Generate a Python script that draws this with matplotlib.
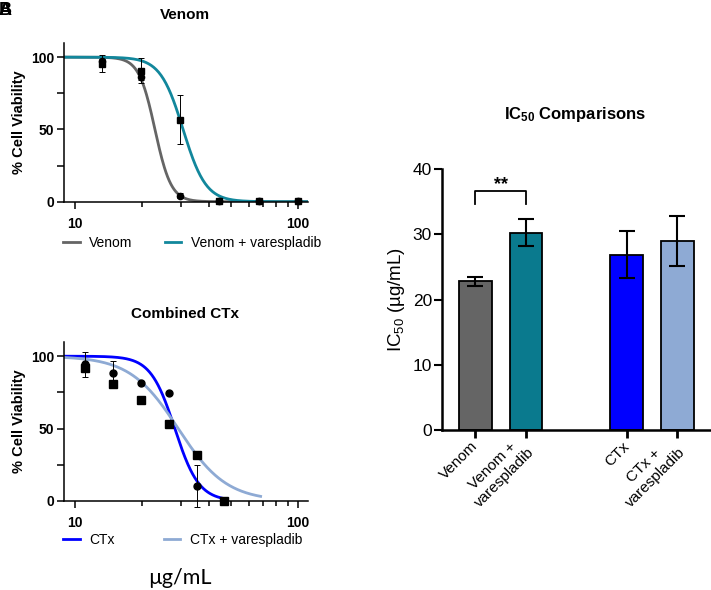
import numpy as np
import matplotlib.pyplot as plt
from matplotlib.ticker import FixedLocator, NullFormatter

plt.rcParams['font.family'] = ['Liberation Sans', 'DejaVu Sans']
plt.rcParams['mathtext.default'] = 'regular'

# -----------------------
# DATA
# -----------------------
venom_conc = [13.17, 19.75, 29.63, 44.44, 66.67, 100]
venom_via = [97.0, 86.3, 4.2, 0.5, 0.3, 0.3]
venom_err = [2.0, 2.0, 1.5, 0, 0, 0]
venom_var_via = [95.6, 90.7, 56.7, 0.5, 0.3, 0.5]
venom_var_err = [6.2, 8.5, 16.8, 0, 0, 0]

ctx_conc = [11.1, 14.8, 19.75, 26.3, 35.1, 46.8]
ctx_via = [94.3, 88.5, 81.4, 74.8, 10.6, 0.2]
ctx_err = [8.5, 8.0, 1.5, 1.0, 14.5, 0]
ctx_var_via = [92.0, 80.7, 69.5, 53.0, 31.7, 0.2]
ctx_var_err = [2.0, 2.0, 1.0, 1.0, 2.0, 0]

# fitted curves: (IC50, hill slope, x end)
venom_fit = (22.8, 12.0, 111)
venom_var_fit = (30.5, 8.5, 111)
ctx_fit = (28.0, 8.0, 47)
ctx_var_fit = (29.0, 4.0, 68)

groups = ['Venom', 'Venom +\nvarespladib', 'CTx', 'CTx +\nvarespladib']
ic50 = [22.8, 30.3, 26.9, 29.0]
ic50_err = [0.7, 2.05, 3.6, 3.85]
bar_x = [0, 1, 3, 4]

GRAY = '#656565'
TEAL = '#12879c'
TEAL_BAR = '#0a7a8e'
BLUE = '#0000ff'
LBLUE = '#8eaad4'

W, H = 711, 590
fig = plt.figure(figsize=(W / 100, H / 100), dpi=100)


def px_axes(x0, y0, x1, y1):
    return fig.add_axes([x0 / W, 1 - y1 / H, (x1 - x0) / W, (y1 - y0) / H])


def curve(ax, fit, color):
    ic, h, xend = fit
    xs = np.logspace(np.log10(8.9), np.log10(xend), 300)
    ax.plot(xs, 100 / (1 + (xs / ic) ** h), color=color, lw=2.0, zorder=2)


def style_dose(ax):
    ax.set_xscale('log')
    ax.set_xlim(8.9, 111)
    ax.set_ylim(0, 110)
    ax.xaxis.set_major_locator(FixedLocator([10, 100]))
    ax.xaxis.set_minor_locator(FixedLocator([20, 30, 40, 50, 60, 70, 80, 90]))
    ax.xaxis.set_minor_formatter(NullFormatter())
    ax.set_xticklabels(['10', '100'], fontweight='bold', fontsize=10)
    ax.set_yticks([0, 25, 50, 75, 100])
    ax.set_yticklabels(['0', '', '50', '', '100'], fontweight='bold', fontsize=10)
    for s in ['top', 'right']:
        ax.spines[s].set_visible(False)
    for s in ['left', 'bottom']:
        ax.spines[s].set_linewidth(1.1)
    ax.tick_params(axis='both', which='major', length=5, width=1.1, pad=2)
    ax.tick_params(axis='x', which='major', pad=6)
    ax.tick_params(axis='x', which='minor', length=3.5, width=1.1)
    ax.set_ylabel('% Cell Viability', fontweight='bold', fontsize=10.5)
    ax.yaxis.set_label_coords(-0.155, 0.5)


def points(ax, x, y, e, marker, ms):
    ax.errorbar(x, y, yerr=e, fmt=marker, color='black', ms=ms, elinewidth=0.7,
                capsize=2.3, capthick=0.7, zorder=3, clip_on=False)


# -----------------------
# VENOM
# -----------------------
ax1 = px_axes(64, 42.7, 308, 201.7)
curve(ax1, venom_fit, GRAY)
curve(ax1, venom_var_fit, TEAL)
points(ax1, venom_conc, venom_var_via, venom_var_err, 's', 5)
points(ax1, venom_conc, venom_via, venom_err, 'o', 4.5)
style_dose(ax1)
ax1.legend(handles=ax1.lines[:2], labels=['Venom', 'Venom + varespladib'],
           ncol=2, frameon=False, loc='center left', fontsize=10,
           bbox_to_anchor=(63 / W, 1 - 243 / H), bbox_transform=fig.transFigure,
           borderpad=0, borderaxespad=0, handlelength=1.2, handletextpad=0.7,
           columnspacing=2.3)
fig.text(185 / W, 1 - 15 / H, 'Venom', ha='center', va='center',
         fontweight='bold', fontsize=11)

# -----------------------
# COMBINED CTx
# -----------------------
ax2 = px_axes(64, 341.7, 308, 501)
curve(ax2, ctx_fit, BLUE)
curve(ax2, ctx_var_fit, LBLUE)
points(ax2, ctx_conc, ctx_var_via, ctx_var_err, 's', 5.5)
points(ax2, ctx_conc, ctx_via, ctx_err, 'o', 5)
style_dose(ax2)
ax2.legend(handles=ax2.lines[:2], labels=['CTx', 'CTx + varespladib'],
           ncol=2, frameon=False, loc='center left', fontsize=10,
           bbox_to_anchor=(63 / W, 1 - 540 / H), bbox_transform=fig.transFigure,
           borderpad=0, borderaxespad=0, handlelength=1.2, handletextpad=0.7,
           columnspacing=3.5)
fig.text(185 / W, 1 - 314 / H, 'Combined CTx', ha='center', va='center',
         fontweight='bold', fontsize=11)
fig.text(180 / W, 1 - 578 / H, 'µg/mL', ha='center', va='center',
         fontsize=15.5, family=['Lato', 'DejaVu Sans'])

# -----------------------
# IC50 BARS
# -----------------------
ax3 = px_axes(441.7, 169.3, 711, 430)
ax3.bar(bar_x, ic50, width=0.65, color=[GRAY, TEAL_BAR, BLUE, LBLUE],
        edgecolor='black', linewidth=1.3, zorder=2)
ax3.errorbar(bar_x, ic50, yerr=ic50_err, fmt='none', ecolor='black',
             elinewidth=1.5, capsize=6, capthick=1.5, zorder=3)
ax3.set_xlim(-0.67, 4.67)
ax3.set_ylim(0, 40)
ax3.set_yticks([0, 10, 20, 30, 40])
ax3.set_xticks(bar_x)
ax3.set_xticklabels(groups, rotation=45, ha='right', va='center',
                    rotation_mode='anchor', multialignment='center', fontsize=11)
ax3.tick_params(axis='y', labelsize=12.5, length=6, width=1.5, pad=1)
ax3.tick_params(axis='x', length=6, width=2, pad=4)
for s in ['top', 'right']:
    ax3.spines[s].set_visible(False)
for s in ['left', 'bottom']:
    ax3.spines[s].set_linewidth(1.8)
ax3.set_ylabel('IC$_{50}$ (µg/mL)', fontsize=13.5)
ax3.yaxis.set_label_coords(-0.13, 0.5)

# significance bracket
ax3.plot([0, 0, 1, 1], [34.7, 36.6, 36.6, 34.7], color='black', lw=1.3,
         clip_on=False)
ax3.text(0.5, 36.3, '**', ha='center', va='bottom', fontsize=13, fontweight='bold')

fig.text(575 / W, 1 - 115 / H, 'IC$_{50}$ Comparisons', ha='center', va='center',
         fontweight='bold', fontsize=12)

# panel letters (overlapping in the original)
fig.text(-1 / W, 1 - 2 / H, 'A', ha='left', va='top', fontweight='bold', fontsize=13)
fig.text(-1 / W, 1 - 2 / H, 'B', ha='left', va='top', fontweight='bold', fontsize=13)

fig.savefig('out.png', dpi=100)
